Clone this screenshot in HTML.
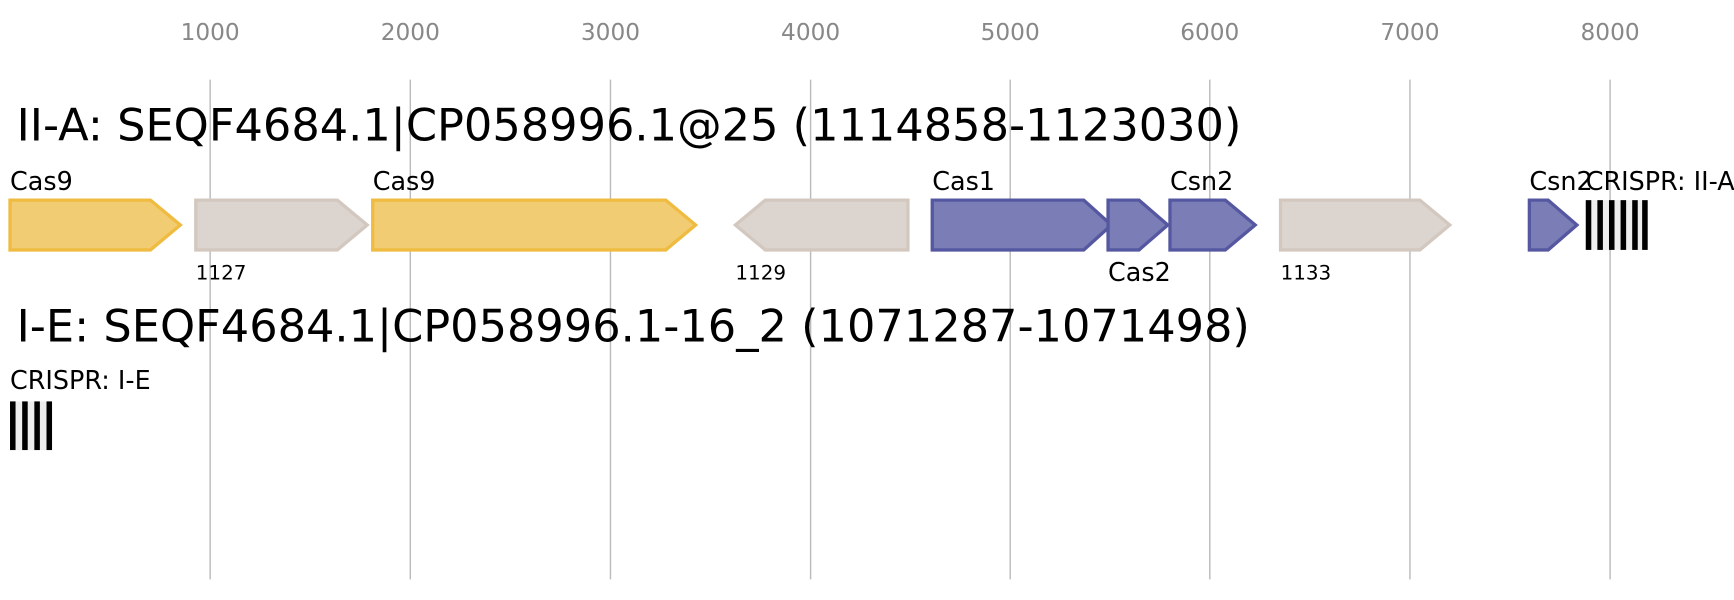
<!DOCTYPE html>
<html><head><meta charset="utf-8"><style>html,body{margin:0;padding:0;background:#fff}svg{display:block}</style></head>
<body>
<svg width="1734" height="600" viewBox="0 0 1568 542.6" xmlns="http://www.w3.org/2000/svg" font-family="DejaVu Sans, Liberation Sans, sans-serif">
<g stroke="#bbbbbb" stroke-width="1.3">
<line x1="190" y1="72" x2="190" y2="524"/><line x1="371" y1="72" x2="371" y2="524"/><line x1="552" y1="72" x2="552" y2="524"/><line x1="733" y1="72" x2="733" y2="524"/><line x1="913.5" y1="72" x2="913.5" y2="524"/><line x1="1094" y1="72" x2="1094" y2="524"/><line x1="1275" y1="72" x2="1275" y2="524"/><line x1="1456" y1="72" x2="1456" y2="524"/>
</g>
<g fill="#888" font-size="21" text-anchor="middle">
<text x="190" y="36">1000</text><text x="371" y="36">2000</text><text x="552" y="36">3000</text><text x="733" y="36">4000</text><text x="913.5" y="36">5000</text><text x="1094" y="36">6000</text><text x="1275" y="36">7000</text><text x="1456" y="36">8000</text>
</g>
<text x="15" y="127" font-size="40.4">II-A: SEQF4684.1|CP058996.1@25 (1114858-1123030)</text>
<text x="15" y="309" font-size="40.4">I-E: SEQF4684.1|CP058996.1-16_2 (1071287-1071498)</text>
<g stroke-width="3">
<polygon points="9,181 136,181 163,203.5 136,226 9,226" fill="#f2cc72" stroke="#efbb40"/>
<polygon points="177,181 305,181 332,203.5 305,226 177,226" fill="#dcd5cf" stroke="#d3c8bf"/>
<polygon points="337,181 602,181 629,203.5 602,226 337,226" fill="#f2cc72" stroke="#efbb40"/>
<polygon points="692,181 821,181 821,226 692,226 665,203.5" fill="#dcd5cf" stroke="#d3c8bf"/>
<polygon points="843,181 980,181 1005,203.5 980,226 843,226" fill="#7b7eb6" stroke="#5558a0"/>
<polygon points="1002,181 1030,181 1056,203.5 1030,226 1002,226" fill="#7b7eb6" stroke="#5558a0"/>
<polygon points="1058,181 1108,181 1135,203.5 1108,226 1058,226" fill="#7b7eb6" stroke="#5558a0"/>
<polygon points="1158,181 1284,181 1311,203.5 1284,226 1158,226" fill="#dcd5cf" stroke="#d3c8bf"/>
<polygon points="1383,181 1400,181 1426,203.5 1400,226 1383,226" fill="#7b7eb6" stroke="#5558a0"/>
</g>
<rect x="1434" y="181" width="56" height="45" fill="#eeeeee"/>
<g fill="#000">
<rect x="1434" y="181" width="5" height="45"/><rect x="1444.5" y="181" width="5" height="45"/><rect x="1455" y="181" width="5" height="45"/><rect x="1465.5" y="181" width="5" height="45"/><rect x="1476" y="181" width="5" height="45"/><rect x="1485" y="181" width="5" height="45"/>
</g>
<rect x="9" y="363" width="38" height="44" fill="#eeeeee"/>
<g fill="#000">
<rect x="9" y="363" width="5" height="44"/><rect x="20" y="363" width="5" height="44"/><rect x="31" y="363" width="5" height="44"/><rect x="42" y="363" width="5" height="44"/>
</g>
<g font-size="23" fill="#000">
<text x="9" y="172">Cas9</text><text x="337" y="172">Cas9</text><text x="843" y="172">Cas1</text><text x="1058" y="172">Csn2</text><text x="1383" y="172">Csn2</text><text x="1434" y="172">CRISPR: II-A</text>
<text x="1002" y="254">Cas2</text><text x="9" y="352">CRISPR: I-E</text>
</g>
<g font-size="18" fill="#000">
<text x="177" y="253">1127</text><text x="665" y="253">1129</text><text x="1158" y="253">1133</text>
</g>
</svg>
</body></html>
